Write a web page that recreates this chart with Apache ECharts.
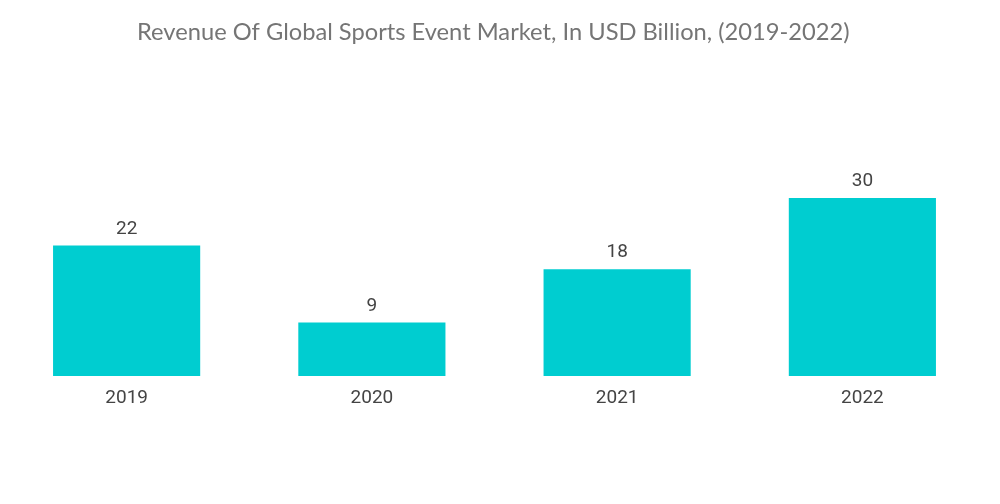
<!DOCTYPE html>
<html>
<head>
<meta charset="utf-8">
<script src="https://cdn.jsdelivr.net/npm/echarts@6/dist/echarts.min.js"></script>
<style>
  html, body { margin: 0; padding: 0; background: #fff; }
  #main { width: 1000px; height: 504px; }
</style>
</head>
<body>
<div id="main"></div>
<script>
var years = ['2019', '2020', '2021', '2022'];
var revenue = [22, 9, 18, 30];

var myChart = echarts.init(document.getElementById('main'));

var option = {
    title: {
        text: 'Revenue Of Global Sports Event Market, In USD Billion, (2019-2022)',
        left: 132,
        top: 15,
        textStyle: {
            fontFamily: 'Lato',
            fontWeight: 'normal',
            fontSize: 23.7,
            color: '#757575'
        }
    },
    grid: {
        top: 198,
        bottom: 128,
        left: 4,
        right: 15
    },
    xAxis: {
        type: 'category',
        data: years,
        axisLine: { show: false },
        axisTick: { show: false },
        axisLabel: {
            margin: 13,
            fontFamily: 'Roboto',
            fontSize: 19,
            color: '#444'
        }
    },
    yAxis: {
        type: 'value',
        min: 0,
        max: 30,
        show: false,
        splitLine: { show: false }
    },
    series: [
        {
            type: 'bar',
            data: revenue,
            barWidth: '60%',
            itemStyle: { color: '#00CDD0' },
            label: {
                show: true,
                position: 'top',
                distance: 7,
                fontFamily: 'Roboto',
                fontSize: 19,
                color: '#444'
            }
        }
    ]
};

myChart.setOption(option);
</script>
</body>
</html>
